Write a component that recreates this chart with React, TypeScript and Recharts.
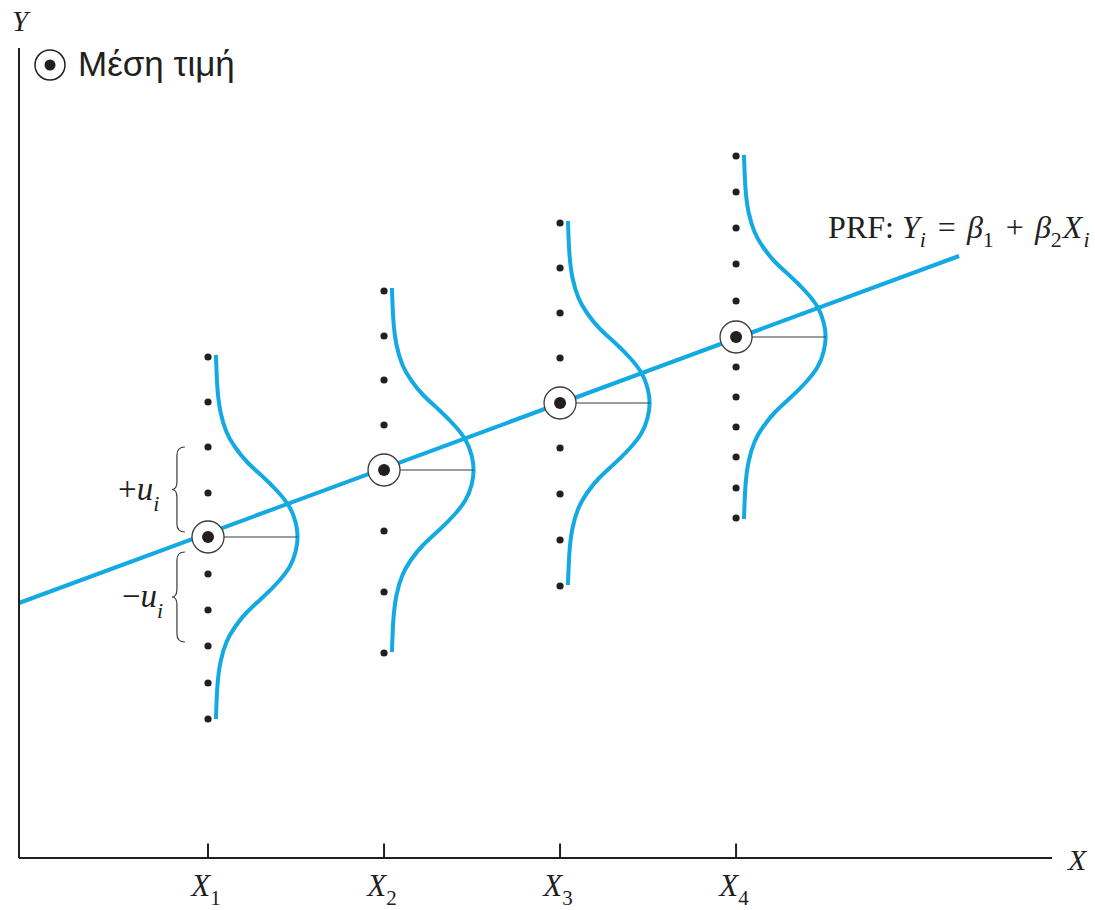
import React from 'react';
import {
  ComposedChart,
  Line,
  Scatter,
  XAxis,
  YAxis,
  ReferenceLine,
} from 'recharts';

// ---- values -------------------------------------------------------------
const X_POSITIONS = [1, 2, 3, 4];
const X_TICK_SUBSCRIPTS = ['1', '2', '3', '4'];

// conditional means E(Y | X_i), one per X value
const CONDITIONAL_MEANS = [32.1, 38.8, 45.5, 52.1];

// individual Y observations at each X (mean excluded)
const OBS_X1 = [50.1, 45.6, 41.1, 36.5, 28.4, 24.8, 21.2, 17.5, 13.9];
const OBS_X2 = [56.7, 52.2, 47.8, 43.3, 32.7, 26.6, 20.5];
const OBS_X3 = [63.5, 59.0, 54.5, 50.0, 41.0, 36.4, 31.8, 27.2];
const OBS_X4 = [70.2, 66.6, 63.0, 59.4, 55.7, 49.1, 46.1, 43.1, 40.1, 37.0, 34.0];

// half of the bell-shaped density drawn beside each X:
// distance above the mean (dy) and horizontal width of the curve (w)
const DENSITY_HALF = [
  { dy: 18.2, w: 0.045 },
  { dy: 15.0, w: 0.053 },
  { dy: 12.5, w: 0.071 },
  { dy: 10.5, w: 0.105 },
  { dy: 9.0, w: 0.153 },
  { dy: 7.5, w: 0.222 },
  { dy: 6.0, w: 0.313 },
  { dy: 4.5, w: 0.398 },
  { dy: 3.0, w: 0.463 },
  { dy: 1.5, w: 0.497 },
  { dy: 0, w: 0.509 },
];

// population regression function end points
const PRF_ENDS = [
  { x: -0.0739, y: 25.5 },
  { x: 5.267, y: 60.2 },
];

// error-term braces next to X1: [top, bottom]
const BRACE_SPANS = [
  [41.1, 32.6],
  [30.6, 21.6],
];

// ---- layout ---------------------------------------------------------------
const W = 1095;
const H = 910;
const X_DOMAIN: [number, number] = [-0.0739, 5.795];
const Y_DOMAIN: [number, number] = [0, 81];
const PLOT_TOP = 48;
const PLOT_BOTTOM = 858;
const PX_PER_Y = (PLOT_BOTTOM - PLOT_TOP) / (Y_DOMAIN[1] - Y_DOMAIN[0]);

const BLUE = '#13a9e3';
const INK = '#231f20';
const SERIF = '"Liberation Serif", "Times New Roman", serif';
const SANS = '"Liberation Sans", Arial, sans-serif';

// ---- derived series -----------------------------------------------------
const observationSets = [OBS_X1, OBS_X2, OBS_X3, OBS_X4];
const observations = observationSets.flatMap((ys, i) =>
  ys.map((y) => ({ x: X_POSITIONS[i], y }))
);
const means = CONDITIONAL_MEANS.map((y, i) => ({ x: X_POSITIONS[i], y }));

const densityCurves = CONDITIONAL_MEANS.map((m, i) => {
  const x0 = X_POSITIONS[i];
  const upper = DENSITY_HALF.map((p) => ({ x: x0 + p.w, y: m + p.dy }));
  const lower = DENSITY_HALF.slice(0, -1)
    .reverse()
    .map((p) => ({ x: x0 + p.w, y: m - p.dy }));
  return [...upper, ...lower];
});

const peakWidth = DENSITY_HALF[DENSITY_HALF.length - 1].w;
const connectors = CONDITIONAL_MEANS.map((m, i) => [
  { x: X_POSITIONS[i], y: m },
  { x: X_POSITIONS[i] + peakWidth, y: m },
]);

const braces = BRACE_SPANS.map(([top, bottom]) => ({
  x: 0.795,
  y: (top + bottom) / 2,
  span: top - bottom,
}));

const annotations = [
  { x: 0.489, y: 35.8, kind: 'plusU' },
  { x: 0.511, y: 25.1, kind: 'minusU' },
  { x: 4.523, y: 62.0, kind: 'prf' },
];

// ---- shapes -------------------------------------------------------------
const ObsDot = (props: any) => (
  <circle cx={props.cx} cy={props.cy} r={3.6} fill={INK} />
);

const MeanMarker = (props: any) => (
  <g>
    <circle cx={props.cx} cy={props.cy} r={16} fill="#fff" stroke="#3a3a3a" strokeWidth={1.3} />
    <circle cx={props.cx} cy={props.cy} r={6} fill={INK} />
  </g>
);

const Brace = (props: any) => {
  const { cx, cy, payload } = props;
  const half = (payload.span * PX_PER_Y) / 2;
  const tip = cx;
  const stem = cx + 5;
  const end = cx + 13;
  const r = 8;
  const t = cy - half;
  const b = cy + half;
  const d = [
    `M ${end} ${t}`,
    `Q ${stem} ${t} ${stem} ${t + r}`,
    `L ${stem} ${cy - r}`,
    `Q ${stem} ${cy} ${tip} ${cy}`,
    `Q ${stem} ${cy} ${stem} ${cy + r}`,
    `L ${stem} ${b - r}`,
    `Q ${stem} ${b} ${end} ${b}`,
  ].join(' ');
  return <path d={d} fill="none" stroke="#3a3a3a" strokeWidth={1.2} />;
};

const Annotation = (props: any) => {
  const { cx, cy, payload } = props;
  if (payload.kind === 'prf') {
    return (
      <text x={cx} y={cy} fontFamily={SERIF} fontSize={32} fill={INK}>
        <tspan>PRF: </tspan>
        <tspan fontStyle="italic">Y</tspan>
        <tspan fontStyle="italic" fontSize={22} dy={9}>i</tspan>
        <tspan dy={-9} dx={4}> = </tspan>
        <tspan fontStyle="italic" dx={3}>β</tspan>
        <tspan fontSize={22} dy={9}>1</tspan>
        <tspan dy={-9} dx={4}> + </tspan>
        <tspan fontStyle="italic" dx={3}>β</tspan>
        <tspan fontSize={22} dy={9}>2</tspan>
        <tspan fontStyle="italic" dy={-9} dx={1}>X</tspan>
        <tspan fontStyle="italic" fontSize={22} dy={9} dx={1}>i</tspan>
      </text>
    );
  }
  const sign = payload.kind === 'plusU' ? '+' : '−';
  return (
    <text x={cx} y={cy} fontFamily={SERIF} fontSize={33} fill={INK}>
      <tspan>{sign}</tspan>
      <tspan fontStyle="italic">u</tspan>
      <tspan fontStyle="italic" fontSize={22} dy={11}>i</tspan>
    </text>
  );
};

const XTick = (props: any) => {
  const { x, y, index } = props;
  return (
    <text x={x - 2} y={y + 38} textAnchor="middle" fontFamily={SERIF} fontSize={31} fill={INK}>
      <tspan fontStyle="italic">X</tspan>
      <tspan fontSize={21} dy={9}>{X_TICK_SUBSCRIPTS[index]}</tspan>
    </text>
  );
};

export default function App() {
  return (
    <div style={{ position: 'absolute', left: 0, top: 0, width: W, height: H, background: '#fff' }}>
      <ComposedChart
        width={W}
        height={H}
        margin={{ top: PLOT_TOP, right: 43, bottom: 0, left: 0 }}
      >
        <XAxis
          type="number"
          dataKey="x"
          domain={X_DOMAIN}
          ticks={X_POSITIONS}
          tick={<XTick />}
          tickLine={false}
          tickSize={0}
          tickMargin={0}
          height={H - PLOT_BOTTOM}
          axisLine={{ stroke: INK, strokeWidth: 2 }}
        />
        <YAxis
          type="number"
          dataKey="y"
          domain={Y_DOMAIN}
          width={19}
          tick={false}
          tickLine={false}
          axisLine={{ stroke: INK, strokeWidth: 2 }}
        />
        {X_POSITIONS.map((xv) => (
          <ReferenceLine
            key={`tick-${xv}`}
            segment={[
              { x: xv, y: 0 },
              { x: xv, y: 1.45 },
            ]}
            stroke={INK}
            strokeWidth={2}
          />
        ))}
        <Line
          data={PRF_ENDS}
          dataKey="y"
          type="linear"
          stroke={BLUE}
          strokeWidth={4}
          dot={false}
          activeDot={false}
          isAnimationActive={false}
        />
        {densityCurves.map((pts, i) => (
          <Line
            key={`density-${i}`}
            data={pts}
            dataKey="y"
            type="natural"
            stroke={BLUE}
            strokeWidth={4}
            dot={false}
            activeDot={false}
            isAnimationActive={false}
          />
        ))}
        {connectors.map((pts, i) => (
          <Line
            key={`conn-${i}`}
            data={pts}
            dataKey="y"
            type="linear"
            stroke="#3a3a3a"
            strokeWidth={1.2}
            dot={false}
            activeDot={false}
            isAnimationActive={false}
          />
        ))}
        <Scatter data={observations} shape={<ObsDot />} isAnimationActive={false} />
        <Scatter data={means} shape={<MeanMarker />} isAnimationActive={false} />
        <Scatter data={braces} shape={<Brace />} isAnimationActive={false} />
        <Scatter data={annotations} shape={<Annotation />} isAnimationActive={false} />
      </ComposedChart>

      {/* axis titles and legend */}
      <svg
        width={W}
        height={H}
        style={{ position: 'absolute', left: 0, top: 0, pointerEvents: 'none' }}
      >
        <text x={12} y={31} fontFamily={SERIF} fontStyle="italic" fontSize={29} fill={INK}>
          Y
        </text>
        <text x={1068} y={870} fontFamily={SERIF} fontStyle="italic" fontSize={30} fill={INK}>
          X
        </text>
        <circle cx={50} cy={65} r={15} fill="#fff" stroke={INK} strokeWidth={1.5} />
        <circle cx={50} cy={65} r={5.5} fill={INK} />
        <text x={78} y={76} fontFamily={SANS} fontSize={35} fill={INK}>
          Μέση τιμή
        </text>
      </svg>
    </div>
  );
}
